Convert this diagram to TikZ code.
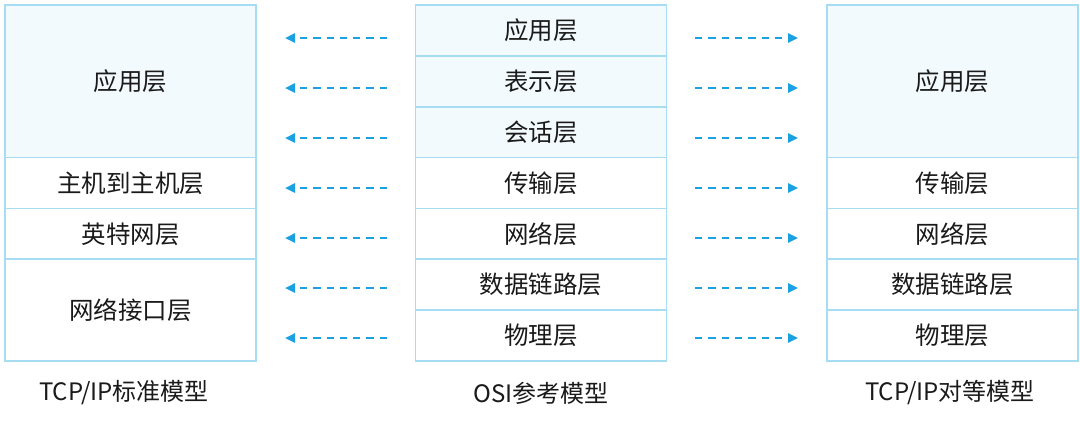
\documentclass[tikz,border=0pt]{standalone}
\usepackage{fontspec}
\setmainfont{Noto Sans CJK SC}
\usetikzlibrary{arrows.meta,calc}
\definecolor{bordc}{HTML}{A6DDF3}
\definecolor{fillc}{HTML}{F3FAFE}
\definecolor{arrc}{HTML}{1BA1E2}
\definecolor{txtc}{HTML}{1A1A1A}
\begin{document}
\begin{tikzpicture}[x=1pt,y=-1pt,
  cell/.style={draw=bordc,line width=1.6pt,fill=white,text=txtc,inner sep=0pt,
    font=\fontsize{24.5}{28}\selectfont,minimum width=251pt},
  appcell/.style={cell,fill=fillc},
  row1/.style={minimum height=50.86pt},
  row3/.style={minimum height=152.57pt},
  row2/.style={minimum height=101.71pt},
  caption/.style={text=txtc,font=\fontsize{24}{28}\selectfont,inner sep=0pt},
  arr/.style={draw=arrc,line width=2.4pt,dash pattern=on 7.3pt off 6pt,
    -{Triangle[length=10pt,width=9pt]}}
]
\useasboundingbox (0,0) rectangle (1080,424);
% left column
\node[appcell,row3] (l1) at (130.5,{5+1.5*50.857}) {应用层};
\node[cell,row1] (l2) at (130.5,{5+3.5*50.857}) {主机到主机层};
\node[cell,row1] (l3) at (130.5,{5+4.5*50.857}) {英特网层};
\node[cell,row2] (l4) at (130.5,{5+6*50.857}) {网络接口层};
% middle column
\node[appcell,row1] (m1) at (541,{5+0.5*50.857}) {应用层};
\node[appcell,row1] (m2) at (541,{5+1.5*50.857}) {表示层};
\node[appcell,row1] (m3) at (541,{5+2.5*50.857}) {会话层};
\node[cell,row1] (m4) at (541,{5+3.5*50.857}) {传输层};
\node[cell,row1] (m5) at (541,{5+4.5*50.857}) {网络层};
\node[cell,row1] (m6) at (541,{5+5.5*50.857}) {数据链路层};
\node[cell,row1] (m7) at (541,{5+6.5*50.857}) {物理层};
% right column
\node[appcell,row3] (r1) at (952.5,{5+1.5*50.857}) {应用层};
\node[cell,row1] (r2) at (952.5,{5+3.5*50.857}) {传输层};
\node[cell,row1] (r3) at (952.5,{5+4.5*50.857}) {网络层};
\node[cell,row1] (r4) at (952.5,{5+5.5*50.857}) {数据链路层};
\node[cell,row1] (r5) at (952.5,{5+6.5*50.857}) {物理层};
% captions
\node[caption] (c1) at (124,393) {TCP/IP标准模型};
\node[caption] (c2) at (541,393) {OSI参考模型};
\node[caption] (c3) at (950,393) {TCP/IP对等模型};
% arrows
\foreach \i/\y in {1/38,2/88,3/138,4/188,5/238,6/288,7/338}{
  \coordinate (ls\i) at (387,\y);
  \coordinate (le\i) at (285,\y);
  \coordinate (rs\i) at (695,\y);
  \coordinate (re\i) at (798,\y);
  \draw[arr] (ls\i) -- (le\i);
  \draw[arr] (rs\i) -- (re\i);
}
\end{tikzpicture}
\end{document}
